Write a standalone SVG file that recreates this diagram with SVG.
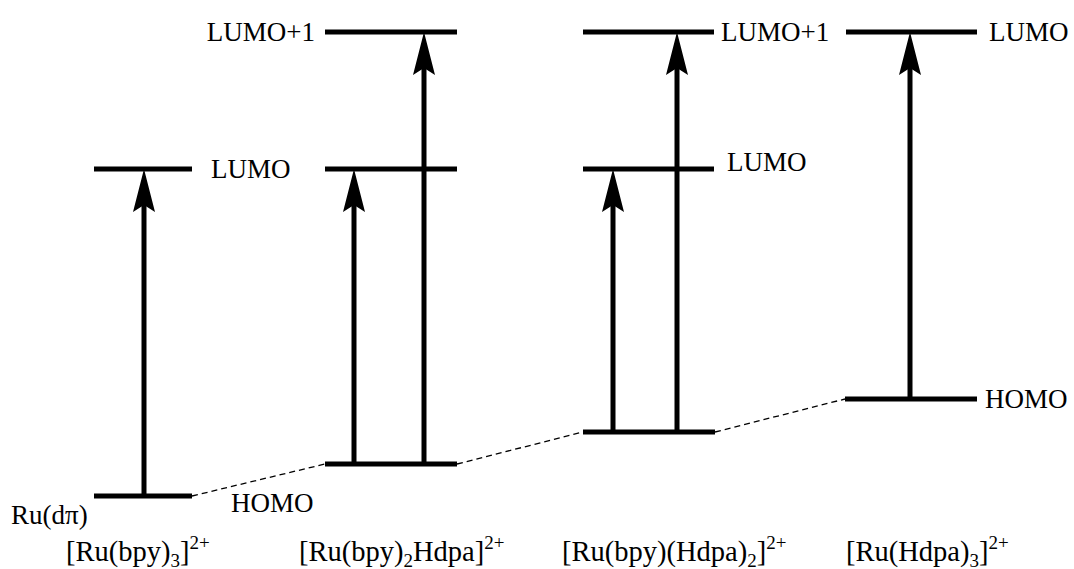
<svg xmlns="http://www.w3.org/2000/svg" width="1074" height="569" viewBox="0 0 1074 569">
  <style>
    .lvl { stroke: #000; stroke-width: 5; fill: none; }
    .tr { stroke: #000; stroke-width: 5; fill: none; marker-end: url(#head); }
    .corr { stroke: #000; stroke-width: 1.3; stroke-dasharray: 6 4; fill: none; }
    text { font-family: "Liberation Serif", "Times New Roman", serif; font-size: 27px; fill: #000; }
    .cpd { font-size: 28.5px; }
    .sm { font-size: 19px; }
  </style>
  <defs>
    <marker id="head" markerUnits="userSpaceOnUse" markerWidth="44" markerHeight="24" viewBox="0 -12 44 24" refX="7" refY="0" orient="auto">
      <path d="M0,-11 L43,0 L0,11 L7,0 Z" fill="#000"/>
    </marker>
  </defs>
  <rect width="1074" height="569" fill="#fff"/>

  <!-- [Ru(bpy)3]2+ -->
  <g id="ru-bpy3">
    <line class="lvl" x1="94" y1="169" x2="192" y2="169"/>
    <line class="lvl" x1="94" y1="496" x2="192" y2="496"/>
    <text x="211" y="178">LUMO</text>
    <text x="231" y="512">HOMO</text>
    <text x="11" y="524">Ru(dπ)</text>
    <text class="cpd" x="66" y="561">[Ru(bpy)<tspan class="sm" dy="6">3</tspan><tspan dy="-6">]</tspan><tspan class="sm" dy="-12">2+</tspan></text>
  </g>

  <!-- [Ru(bpy)2Hdpa]2+ -->
  <g id="ru-bpy2-hdpa">
    <line class="lvl" x1="325" y1="32" x2="457" y2="32"/>
    <line class="lvl" x1="325" y1="169" x2="457" y2="169"/>
    <line class="lvl" x1="325" y1="464" x2="457" y2="464"/>
    <text x="315" y="41" text-anchor="end">LUMO+1</text>
    <text class="cpd" x="299" y="561">[Ru(bpy)<tspan class="sm" dy="6">2</tspan><tspan dy="-6">Hdpa]</tspan><tspan class="sm" dy="-12">2+</tspan></text>
  </g>

  <!-- [Ru(bpy)(Hdpa)2]2+ -->
  <g id="ru-bpy-hdpa2">
    <line class="lvl" x1="583" y1="32" x2="714" y2="32"/>
    <line class="lvl" x1="583" y1="169" x2="714" y2="169"/>
    <line class="lvl" x1="583" y1="432" x2="715" y2="432"/>
    <text x="721" y="41">LUMO+1</text>
    <text x="727" y="171">LUMO</text>
    <text class="cpd" x="562" y="561">[Ru(bpy)(Hdpa)<tspan class="sm" dy="6">2</tspan><tspan dy="-6">]</tspan><tspan class="sm" dy="-12">2+</tspan></text>
  </g>

  <!-- [Ru(Hdpa)3]2+ -->
  <g id="ru-hdpa3">
    <line class="lvl" x1="846" y1="32" x2="977" y2="32"/>
    <line class="lvl" x1="845" y1="399" x2="977" y2="399"/>
    <text x="989" y="41">LUMO</text>
    <text x="985" y="408">HOMO</text>
    <text class="cpd" x="846" y="561">[Ru(Hdpa)<tspan class="sm" dy="6">3</tspan><tspan dy="-6">]</tspan><tspan class="sm" dy="-12">2+</tspan></text>
  </g>

  <g id="connectors">
    <!-- HOMO correlation -->
    <line class="corr" x1="192" y1="496" x2="325" y2="464"/>
    <line class="corr" x1="457" y1="464" x2="583" y2="432"/>
    <line class="corr" x1="715" y1="432" x2="845" y2="399"/>
    <!-- excitations -->
    <line class="tr" x1="144" y1="496" x2="144" y2="205"/>
    <line class="tr" x1="354" y1="464" x2="354" y2="205"/>
    <line class="tr" x1="424" y1="464" x2="424" y2="68"/>
    <line class="tr" x1="613" y1="432" x2="613" y2="205"/>
    <line class="tr" x1="677" y1="432" x2="677" y2="68"/>
    <line class="tr" x1="910" y1="399" x2="910" y2="68"/>
  </g>
</svg>
